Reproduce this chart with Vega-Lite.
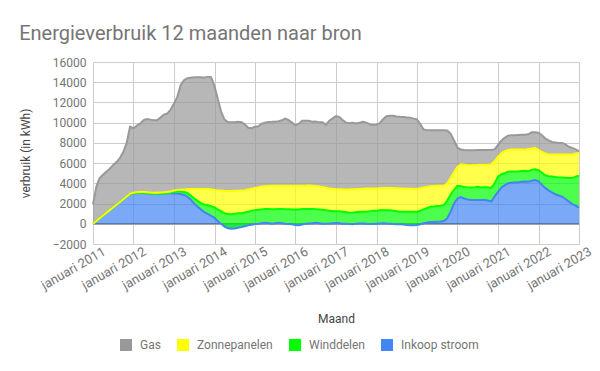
{
  "$schema": "https://vega.github.io/schema/vega-lite/v6.json",
  "autosize": {"type": "none"},
  "width": 486,
  "height": 182,
  "padding": {"left": 93, "top": 62, "right": 21, "bottom": 127},
  "background": "white",
  "title": {"text": "Energieverbruik 12 maanden naar bron", "anchor": "start", "font": "Roboto", "fontSize": 20, "fontWeight": "normal", "color": "#757575", "offset": 12},
  "layer": [
    {
      "data": {"values": [{"nul": 0}]},
      "mark": {"type": "rule", "color": "#333333", "strokeWidth": 1},
      "encoding": {
        "y": {"field": "nul", "type": "quantitative",
          "scale": {"domain": [-2000, 16000], "nice": false, "zero": false},
          "axis": {"title": "verbruik (in kWh)", "values": [-2000, 0, 2000, 4000, 6000, 8000, 10000, 12000, 14000, 16000], "format": "d", "labelOverlap": false, "labelPadding": 7, "titlePadding": 20}}
      }
    },
    {
      "data": {"values": [
        {"m":"2011-01-01","Inkoop stroom":0,"Winddelen":0,"Zonnepanelen":0,"Gas":1900},
        {"m":"2011-02-01","Inkoop stroom":270,"Winddelen":0,"Zonnepanelen":0,"Gas":3430},
        {"m":"2011-03-01","Inkoop stroom":540,"Winddelen":0,"Zonnepanelen":0,"Gas":3960},
        {"m":"2011-04-01","Inkoop stroom":810,"Winddelen":0,"Zonnepanelen":0,"Gas":4040},
        {"m":"2011-05-01","Inkoop stroom":1080,"Winddelen":0,"Zonnepanelen":0,"Gas":4070},
        {"m":"2011-06-01","Inkoop stroom":1350,"Winddelen":0,"Zonnepanelen":0,"Gas":4100},
        {"m":"2011-07-01","Inkoop stroom":1610,"Winddelen":0,"Zonnepanelen":0,"Gas":4190},
        {"m":"2011-08-01","Inkoop stroom":1880,"Winddelen":0,"Zonnepanelen":0,"Gas":4220},
        {"m":"2011-09-01","Inkoop stroom":2150,"Winddelen":0,"Zonnepanelen":0,"Gas":4350},
        {"m":"2011-10-01","Inkoop stroom":2420,"Winddelen":0,"Zonnepanelen":0,"Gas":4680},
        {"m":"2011-11-01","Inkoop stroom":2690,"Winddelen":0,"Zonnepanelen":0,"Gas":5310},
        {"m":"2011-12-01","Inkoop stroom":2950,"Winddelen":0,"Zonnepanelen":30,"Gas":6620},
        {"m":"2012-01-01","Inkoop stroom":3000,"Winddelen":0,"Zonnepanelen":80,"Gas":6370},
        {"m":"2012-02-01","Inkoop stroom":3050,"Winddelen":0,"Zonnepanelen":80,"Gas":6570},
        {"m":"2012-03-01","Inkoop stroom":3050,"Winddelen":0,"Zonnepanelen":90,"Gas":6760},
        {"m":"2012-04-01","Inkoop stroom":3050,"Winddelen":0,"Zonnepanelen":100,"Gas":7100},
        {"m":"2012-05-01","Inkoop stroom":3030,"Winddelen":0,"Zonnepanelen":100,"Gas":7220},
        {"m":"2012-06-01","Inkoop stroom":3000,"Winddelen":0,"Zonnepanelen":100,"Gas":7200},
        {"m":"2012-07-01","Inkoop stroom":2980,"Winddelen":0,"Zonnepanelen":100,"Gas":7170},
        {"m":"2012-08-01","Inkoop stroom":2970,"Winddelen":0,"Zonnepanelen":110,"Gas":7170},
        {"m":"2012-09-01","Inkoop stroom":2980,"Winddelen":0,"Zonnepanelen":120,"Gas":7400},
        {"m":"2012-10-01","Inkoop stroom":3000,"Winddelen":0,"Zonnepanelen":120,"Gas":7680},
        {"m":"2012-11-01","Inkoop stroom":3020,"Winddelen":30,"Zonnepanelen":100,"Gas":7750},
        {"m":"2012-12-01","Inkoop stroom":3030,"Winddelen":70,"Zonnepanelen":100,"Gas":8100},
        {"m":"2013-01-01","Inkoop stroom":3000,"Winddelen":150,"Zonnepanelen":150,"Gas":8600},
        {"m":"2013-02-01","Inkoop stroom":3000,"Winddelen":200,"Zonnepanelen":130,"Gas":9270},
        {"m":"2013-03-01","Inkoop stroom":2950,"Winddelen":250,"Zonnepanelen":170,"Gas":10330},
        {"m":"2013-04-01","Inkoop stroom":2850,"Winddelen":300,"Zonnepanelen":250,"Gas":10800},
        {"m":"2013-05-01","Inkoop stroom":2700,"Winddelen":350,"Zonnepanelen":370,"Gas":10980},
        {"m":"2013-06-01","Inkoop stroom":2380,"Winddelen":420,"Zonnepanelen":630,"Gas":11020},
        {"m":"2013-07-01","Inkoop stroom":2000,"Winddelen":500,"Zonnepanelen":940,"Gas":11040},
        {"m":"2013-08-01","Inkoop stroom":1680,"Winddelen":580,"Zonnepanelen":1190,"Gas":11050},
        {"m":"2013-09-01","Inkoop stroom":1400,"Winddelen":650,"Zonnepanelen":1400,"Gas":11050},
        {"m":"2013-10-01","Inkoop stroom":1150,"Winddelen":750,"Zonnepanelen":1550,"Gas":11000},
        {"m":"2013-11-01","Inkoop stroom":980,"Winddelen":850,"Zonnepanelen":1600,"Gas":11120},
        {"m":"2013-12-01","Inkoop stroom":780,"Winddelen":950,"Zonnepanelen":1670,"Gas":11100},
        {"m":"2014-01-01","Inkoop stroom":580,"Winddelen":1050,"Zonnepanelen":1720,"Gas":10250},
        {"m":"2014-02-01","Inkoop stroom":250,"Winddelen":1150,"Zonnepanelen":1900,"Gas":9000},
        {"m":"2014-03-01","Inkoop stroom":0,"Winddelen":1250,"Zonnepanelen":2030,"Gas":7820},
        {"m":"2014-04-01","Inkoop stroom":-280,"Winddelen":1320,"Zonnepanelen":2220,"Gas":7040},
        {"m":"2014-05-01","Inkoop stroom":-450,"Winddelen":1400,"Zonnepanelen":2300,"Gas":6800},
        {"m":"2014-06-01","Inkoop stroom":-480,"Winddelen":1430,"Zonnepanelen":2300,"Gas":6800},
        {"m":"2014-07-01","Inkoop stroom":-460,"Winddelen":1450,"Zonnepanelen":2270,"Gas":6790},
        {"m":"2014-08-01","Inkoop stroom":-400,"Winddelen":1430,"Zonnepanelen":2240,"Gas":6830},
        {"m":"2014-09-01","Inkoop stroom":-330,"Winddelen":1380,"Zonnepanelen":2240,"Gas":6760},
        {"m":"2014-10-01","Inkoop stroom":-240,"Winddelen":1350,"Zonnepanelen":2200,"Gas":6540},
        {"m":"2014-11-01","Inkoop stroom":-160,"Winddelen":1350,"Zonnepanelen":2190,"Gas":6120},
        {"m":"2014-12-01","Inkoop stroom":-90,"Winddelen":1370,"Zonnepanelen":2180,"Gas":5990},
        {"m":"2015-01-01","Inkoop stroom":-30,"Winddelen":1380,"Zonnepanelen":2200,"Gas":6050},
        {"m":"2015-02-01","Inkoop stroom":0,"Winddelen":1380,"Zonnepanelen":2240,"Gas":6030},
        {"m":"2015-03-01","Inkoop stroom":50,"Winddelen":1370,"Zonnepanelen":2260,"Gas":6220},
        {"m":"2015-04-01","Inkoop stroom":100,"Winddelen":1350,"Zonnepanelen":2270,"Gas":6280},
        {"m":"2015-05-01","Inkoop stroom":80,"Winddelen":1370,"Zonnepanelen":2290,"Gas":6330},
        {"m":"2015-06-01","Inkoop stroom":0,"Winddelen":1440,"Zonnepanelen":2310,"Gas":6330},
        {"m":"2015-07-01","Inkoop stroom":50,"Winddelen":1390,"Zonnepanelen":2320,"Gas":6340},
        {"m":"2015-08-01","Inkoop stroom":100,"Winddelen":1350,"Zonnepanelen":2310,"Gas":6390},
        {"m":"2015-09-01","Inkoop stroom":50,"Winddelen":1400,"Zonnepanelen":2310,"Gas":6470},
        {"m":"2015-10-01","Inkoop stroom":0,"Winddelen":1440,"Zonnepanelen":2320,"Gas":6640},
        {"m":"2015-11-01","Inkoop stroom":-20,"Winddelen":1450,"Zonnepanelen":2330,"Gas":6490},
        {"m":"2015-12-01","Inkoop stroom":-50,"Winddelen":1470,"Zonnepanelen":2340,"Gas":6240},
        {"m":"2016-01-01","Inkoop stroom":-120,"Winddelen":1520,"Zonnepanelen":2360,"Gas":5990},
        {"m":"2016-02-01","Inkoop stroom":-150,"Winddelen":1570,"Zonnepanelen":2340,"Gas":6140},
        {"m":"2016-03-01","Inkoop stroom":-80,"Winddelen":1530,"Zonnepanelen":2310,"Gas":6420},
        {"m":"2016-04-01","Inkoop stroom":0,"Winddelen":1460,"Zonnepanelen":2310,"Gas":6410},
        {"m":"2016-05-01","Inkoop stroom":30,"Winddelen":1430,"Zonnepanelen":2320,"Gas":6400},
        {"m":"2016-06-01","Inkoop stroom":60,"Winddelen":1390,"Zonnepanelen":2320,"Gas":6330},
        {"m":"2016-07-01","Inkoop stroom":100,"Winddelen":1340,"Zonnepanelen":2300,"Gas":6380},
        {"m":"2016-08-01","Inkoop stroom":50,"Winddelen":1370,"Zonnepanelen":2280,"Gas":6330},
        {"m":"2016-09-01","Inkoop stroom":0,"Winddelen":1380,"Zonnepanelen":2260,"Gas":6390},
        {"m":"2016-10-01","Inkoop stroom":0,"Winddelen":1340,"Zonnepanelen":2230,"Gas":6210},
        {"m":"2016-11-01","Inkoop stroom":20,"Winddelen":1280,"Zonnepanelen":2200,"Gas":6700},
        {"m":"2016-12-01","Inkoop stroom":60,"Winddelen":1210,"Zonnepanelen":2190,"Gas":6960},
        {"m":"2017-01-01","Inkoop stroom":80,"Winddelen":1170,"Zonnepanelen":2180,"Gas":7220},
        {"m":"2017-02-01","Inkoop stroom":50,"Winddelen":1180,"Zonnepanelen":2190,"Gas":7130},
        {"m":"2017-03-01","Inkoop stroom":0,"Winddelen":1200,"Zonnepanelen":2200,"Gas":6850},
        {"m":"2017-04-01","Inkoop stroom":0,"Winddelen":1150,"Zonnepanelen":2250,"Gas":6600},
        {"m":"2017-05-01","Inkoop stroom":-30,"Winddelen":1130,"Zonnepanelen":2300,"Gas":6550},
        {"m":"2017-06-01","Inkoop stroom":-50,"Winddelen":1170,"Zonnepanelen":2300,"Gas":6560},
        {"m":"2017-07-01","Inkoop stroom":0,"Winddelen":1150,"Zonnepanelen":2280,"Gas":6490},
        {"m":"2017-08-01","Inkoop stroom":20,"Winddelen":1160,"Zonnepanelen":2270,"Gas":6550},
        {"m":"2017-09-01","Inkoop stroom":30,"Winddelen":1170,"Zonnepanelen":2270,"Gas":6610},
        {"m":"2017-10-01","Inkoop stroom":0,"Winddelen":1200,"Zonnepanelen":2280,"Gas":6520},
        {"m":"2017-11-01","Inkoop stroom":-20,"Winddelen":1250,"Zonnepanelen":2250,"Gas":6370},
        {"m":"2017-12-01","Inkoop stroom":-30,"Winddelen":1310,"Zonnepanelen":2210,"Gas":6290},
        {"m":"2018-01-01","Inkoop stroom":0,"Winddelen":1300,"Zonnepanelen":2200,"Gas":6320},
        {"m":"2018-02-01","Inkoop stroom":30,"Winddelen":1300,"Zonnepanelen":2190,"Gas":6430},
        {"m":"2018-03-01","Inkoop stroom":50,"Winddelen":1300,"Zonnepanelen":2180,"Gas":6820},
        {"m":"2018-04-01","Inkoop stroom":20,"Winddelen":1330,"Zonnepanelen":2190,"Gas":7090},
        {"m":"2018-05-01","Inkoop stroom":0,"Winddelen":1330,"Zonnepanelen":2210,"Gas":7140},
        {"m":"2018-06-01","Inkoop stroom":-30,"Winddelen":1330,"Zonnepanelen":2230,"Gas":7150},
        {"m":"2018-07-01","Inkoop stroom":-50,"Winddelen":1300,"Zonnepanelen":2270,"Gas":7100},
        {"m":"2018-08-01","Inkoop stroom":-50,"Winddelen":1250,"Zonnepanelen":2300,"Gas":7080},
        {"m":"2018-09-01","Inkoop stroom":-80,"Winddelen":1280,"Zonnepanelen":2280,"Gas":7080},
        {"m":"2018-10-01","Inkoop stroom":-120,"Winddelen":1320,"Zonnepanelen":2270,"Gas":7050},
        {"m":"2018-11-01","Inkoop stroom":-150,"Winddelen":1350,"Zonnepanelen":2260,"Gas":7020},
        {"m":"2018-12-01","Inkoop stroom":-150,"Winddelen":1330,"Zonnepanelen":2270,"Gas":6950},
        {"m":"2019-01-01","Inkoop stroom":-120,"Winddelen":1320,"Zonnepanelen":2250,"Gas":6880},
        {"m":"2019-02-01","Inkoop stroom":-50,"Winddelen":1350,"Zonnepanelen":2220,"Gas":6310},
        {"m":"2019-03-01","Inkoop stroom":50,"Winddelen":1370,"Zonnepanelen":2160,"Gas":5750},
        {"m":"2019-04-01","Inkoop stroom":120,"Winddelen":1430,"Zonnepanelen":2100,"Gas":5600},
        {"m":"2019-05-01","Inkoop stroom":180,"Winddelen":1500,"Zonnepanelen":2020,"Gas":5550},
        {"m":"2019-06-01","Inkoop stroom":180,"Winddelen":1540,"Zonnepanelen":2010,"Gas":5520},
        {"m":"2019-07-01","Inkoop stroom":200,"Winddelen":1550,"Zonnepanelen":2000,"Gas":5500},
        {"m":"2019-08-01","Inkoop stroom":220,"Winddelen":1560,"Zonnepanelen":1970,"Gas":5500},
        {"m":"2019-09-01","Inkoop stroom":280,"Winddelen":1570,"Zonnepanelen":1930,"Gas":5480},
        {"m":"2019-10-01","Inkoop stroom":550,"Winddelen":1750,"Zonnepanelen":1700,"Gas":5220},
        {"m":"2019-11-01","Inkoop stroom":1200,"Winddelen":1700,"Zonnepanelen":1650,"Gas":4350},
        {"m":"2019-12-01","Inkoop stroom":2000,"Winddelen":1350,"Zonnepanelen":1750,"Gas":3150},
        {"m":"2020-01-01","Inkoop stroom":2500,"Winddelen":1250,"Zonnepanelen":1900,"Gas":1870},
        {"m":"2020-02-01","Inkoop stroom":2650,"Winddelen":1070,"Zonnepanelen":2160,"Gas":1470},
        {"m":"2020-03-01","Inkoop stroom":2500,"Winddelen":1150,"Zonnepanelen":2200,"Gas":1450},
        {"m":"2020-04-01","Inkoop stroom":2400,"Winddelen":1200,"Zonnepanelen":2200,"Gas":1480},
        {"m":"2020-05-01","Inkoop stroom":2350,"Winddelen":1230,"Zonnepanelen":2220,"Gas":1480},
        {"m":"2020-06-01","Inkoop stroom":2350,"Winddelen":1250,"Zonnepanelen":2220,"Gas":1460},
        {"m":"2020-07-01","Inkoop stroom":2350,"Winddelen":1300,"Zonnepanelen":2180,"Gas":1470},
        {"m":"2020-08-01","Inkoop stroom":2350,"Winddelen":1250,"Zonnepanelen":2250,"Gas":1450},
        {"m":"2020-09-01","Inkoop stroom":2350,"Winddelen":1270,"Zonnepanelen":2230,"Gas":1450},
        {"m":"2020-10-01","Inkoop stroom":2300,"Winddelen":1320,"Zonnepanelen":2230,"Gas":1450},
        {"m":"2020-11-01","Inkoop stroom":2200,"Winddelen":1350,"Zonnepanelen":2350,"Gas":1420},
        {"m":"2020-12-01","Inkoop stroom":2700,"Winddelen":1300,"Zonnepanelen":2200,"Gas":1150},
        {"m":"2021-01-01","Inkoop stroom":3150,"Winddelen":1500,"Zonnepanelen":2000,"Gas":1150},
        {"m":"2021-02-01","Inkoop stroom":3600,"Winddelen":1300,"Zonnepanelen":2100,"Gas":1250},
        {"m":"2021-03-01","Inkoop stroom":3800,"Winddelen":1200,"Zonnepanelen":2180,"Gas":1320},
        {"m":"2021-04-01","Inkoop stroom":4000,"Winddelen":1150,"Zonnepanelen":2150,"Gas":1400},
        {"m":"2021-05-01","Inkoop stroom":4050,"Winddelen":1130,"Zonnepanelen":2170,"Gas":1400},
        {"m":"2021-06-01","Inkoop stroom":4080,"Winddelen":1100,"Zonnepanelen":2170,"Gas":1400},
        {"m":"2021-07-01","Inkoop stroom":4080,"Winddelen":1100,"Zonnepanelen":2170,"Gas":1430},
        {"m":"2021-08-01","Inkoop stroom":4150,"Winddelen":1070,"Zonnepanelen":2130,"Gas":1450},
        {"m":"2021-09-01","Inkoop stroom":4180,"Winddelen":1070,"Zonnepanelen":2080,"Gas":1470},
        {"m":"2021-10-01","Inkoop stroom":4150,"Winddelen":1050,"Zonnepanelen":2200,"Gas":1450},
        {"m":"2021-11-01","Inkoop stroom":4250,"Winddelen":1080,"Zonnepanelen":2120,"Gas":1600},
        {"m":"2021-12-01","Inkoop stroom":4330,"Winddelen":1070,"Zonnepanelen":2080,"Gas":1580},
        {"m":"2022-01-01","Inkoop stroom":4200,"Winddelen":1100,"Zonnepanelen":2000,"Gas":1700},
        {"m":"2022-02-01","Inkoop stroom":3850,"Winddelen":1200,"Zonnepanelen":2050,"Gas":1650},
        {"m":"2022-03-01","Inkoop stroom":3550,"Winddelen":1250,"Zonnepanelen":2150,"Gas":1500},
        {"m":"2022-04-01","Inkoop stroom":3300,"Winddelen":1400,"Zonnepanelen":2150,"Gas":1400},
        {"m":"2022-05-01","Inkoop stroom":3100,"Winddelen":1580,"Zonnepanelen":2170,"Gas":1250},
        {"m":"2022-06-01","Inkoop stroom":2920,"Winddelen":1710,"Zonnepanelen":2220,"Gas":1200},
        {"m":"2022-07-01","Inkoop stroom":2800,"Winddelen":1800,"Zonnepanelen":2250,"Gas":1150},
        {"m":"2022-08-01","Inkoop stroom":2680,"Winddelen":1900,"Zonnepanelen":2270,"Gas":1150},
        {"m":"2022-09-01","Inkoop stroom":2450,"Winddelen":2100,"Zonnepanelen":2300,"Gas":1000},
        {"m":"2022-10-01","Inkoop stroom":2200,"Winddelen":2320,"Zonnepanelen":2330,"Gas":770},
        {"m":"2022-11-01","Inkoop stroom":1950,"Winddelen":2570,"Zonnepanelen":2330,"Gas":650},
        {"m":"2022-12-01","Inkoop stroom":1800,"Winddelen":2850,"Zonnepanelen":2300,"Gas":400},
        {"m":"2023-01-01","Inkoop stroom":1600,"Winddelen":3150,"Zonnepanelen":2250,"Gas":150}
      ]},
      "transform": [
        {"fold": ["Inkoop stroom", "Winddelen", "Zonnepanelen", "Gas"], "as": ["bron", "kwh"]},
        {"calculate": "indexof(['Inkoop stroom', 'Winddelen', 'Zonnepanelen', 'Gas'], datum.bron)", "as": "o"},
        {"window": [{"op": "sum", "field": "kwh", "as": "top"}], "groupby": ["m"], "sort": [{"field": "o"}], "frame": [null, 0]},
        {"calculate": "datum.top - datum.kwh", "as": "base"}
      ],
      "encoding": {
        "x": {
          "field": "m", "type": "temporal",
          "scale": {"domain": ["2011-01-01", "2023-01-01"], "nice": false},
          "axis": {"title": "Maand", "tickCount": 12, "labelExpr": "'januari ' + timeFormat(datum.value, '%Y')", "labelFontSize": 13, "labelAngle": -30, "labelAlign": "right", "labelBaseline": "top", "labelOffset": 8, "labelPadding": 1, "labelOverlap": false, "titlePadding": 21}
        },
        "y": {
          "field": "top", "type": "quantitative", "stack": null,
          "scale": {"domain": [-2000, 16000], "nice": false, "zero": false},
          "axis": {"title": "verbruik (in kWh)", "values": [-2000, 0, 2000, 4000, 6000, 8000, 10000, 12000, 14000, 16000], "format": "d", "labelOverlap": false, "labelPadding": 7, "titlePadding": 20}
        },
        "color": {
          "field": "bron", "type": "nominal",
          "scale": {"domain": ["Gas", "Zonnepanelen", "Winddelen", "Inkoop stroom"], "range": ["#999999", "#ffff00", "#00ff00", "#4285f4"]},
          "legend": {"orient": "none", "legendX": 27, "legendY": 277, "direction": "horizontal", "title": null, "symbolType": "square", "symbolSize": 144, "symbolStrokeWidth": 0, "labelFontSize": 12, "labelColor": "#757575", "labelOffset": 8, "columnPadding": 16, "labelLimit": 200}
        }
      },
      "layer": [
        {"mark": {"type": "area", "fillOpacity": 0.7}, "encoding": {"y2": {"field": "base"}}},
        {"mark": {"type": "line", "strokeWidth": 2}}
      ]
    }
  ],
  "config": {
    "view": {"stroke": null},
    "font": "Roboto",
    "axis": {"domain": false, "ticks": false, "grid": true, "gridColor": "#cccccc", "labelFontSize": 12, "labelColor": "#757575", "titleFontSize": 12, "titleFontWeight": "normal", "titleColor": "#444444"}
  }
}
